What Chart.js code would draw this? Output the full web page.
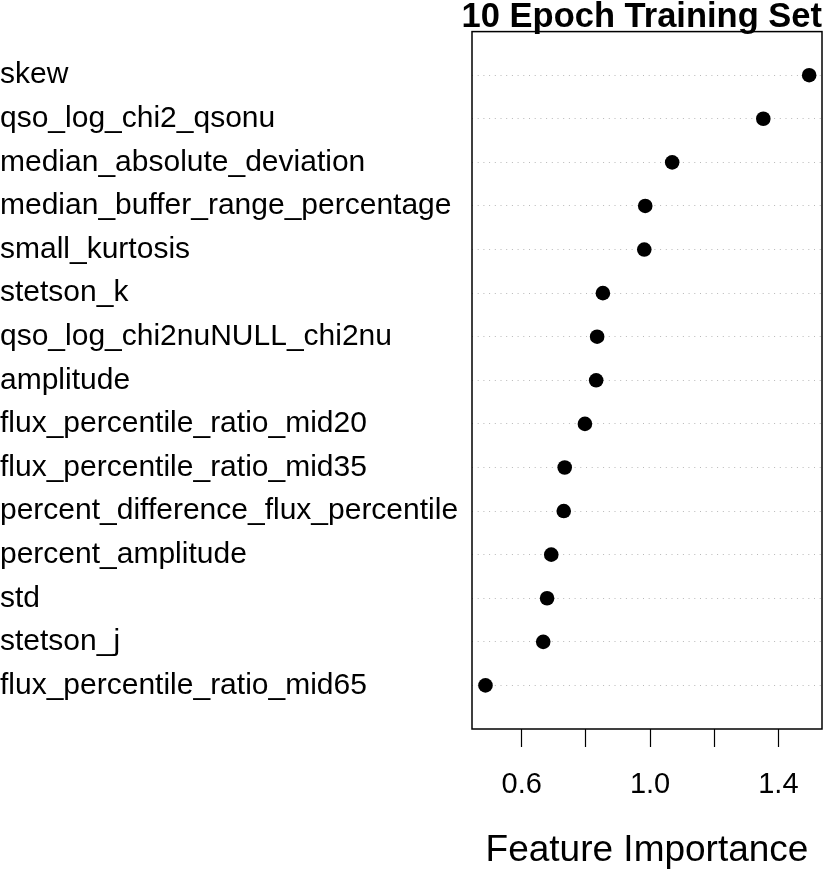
<!DOCTYPE html>
<html>
<head>
<meta charset="utf-8">
<script src="https://cdn.jsdelivr.net/npm/chart.js@4.4.1/dist/chart.umd.min.js"></script>
<style>
  body { margin: 0; background: #fff; }
</style>
</head>
<body>
<canvas id="myChart" width="831" height="873"></canvas>
<script>
// features, top to bottom
const features = [
  "skew",
  "qso_log_chi2_qsonu",
  "median_absolute_deviation",
  "median_buffer_range_percentage",
  "small_kurtosis",
  "stetson_k",
  "qso_log_chi2nuNULL_chi2nu",
  "amplitude",
  "flux_percentile_ratio_mid20",
  "flux_percentile_ratio_mid35",
  "percent_difference_flux_percentile",
  "percent_amplitude",
  "std",
  "stetson_j",
  "flux_percentile_ratio_mid65"
];
const importance = [1.496, 1.353, 1.069, 0.985, 0.982, 0.853, 0.835, 0.832, 0.797, 0.734, 0.731, 0.692, 0.679, 0.667, 0.487];
const xTicks = [0.6, 0.8, 1.0, 1.2, 1.4];
// R drops the labels that would overlap
const xTickLabels = ["0.6", "", "1.0", "", "1.4"];

const ctx = document.getElementById("myChart");
const font = "'Liberation Sans', Arial, Helvetica, sans-serif";

const points = importance.map((v, i) => ({ x: v, y: i + 1 }));

// box around the plot area
const boxPlugin = {
  id: "box",
  afterDraw(chart) {
    const a = chart.chartArea;
    const c = chart.ctx;
    c.save();
    c.strokeStyle = "#000";
    c.lineWidth = 1.5;
    c.strokeRect(a.left, a.top, a.right - a.left, a.bottom - a.top);
    c.restore();
  }
};

new Chart(ctx, {
  type: "scatter",
  data: {
    datasets: [
      {
        data: points,
        backgroundColor: "#000",
        borderWidth: 0,
        pointRadius: 7.3,
        pointHoverRadius: 7.3
      }
    ]
  },
  options: {
    responsive: false,
    animation: false,
    layout: { padding: { left: 0, right: 9, top: 0, bottom: 0 } },
    plugins: {
      legend: { display: false },
      tooltip: { enabled: false },
      title: {
        display: true,
        text: "10 Epoch Training Set",
        align: "end",
        color: "#000",
        font: { family: font, size: 34.5, weight: "bold", lineHeight: 0.8 },
        padding: { top: 4, bottom: 0 }
      }
    },
    scales: {
      x: {
        type: "linear",
        min: 0.445,
        max: 1.536,
        afterBuildTicks: (s) => { s.ticks = xTicks.map((v) => ({ value: v })); },
        afterFit: (s) => { s.height = 144; },
        border: { display: false },
        grid: {
          drawOnChartArea: false,
          drawTicks: true,
          tickLength: 18,
          tickColor: "#000",
          tickWidth: 1.2
        },
        ticks: {
          color: "#000",
          font: { family: font, size: 29 },
          padding: 21,
          maxRotation: 0,
          autoSkip: false,
          callback: (v, i) => xTickLabels[i]
        },
        title: {
          display: true,
          text: "Feature Importance",
          color: "#000",
          font: { family: font, size: 37 },
          padding: { top: 0, bottom: 0 }
        }
      },
      y: {
        type: "linear",
        reverse: true,
        min: 0,
        max: 16,
        afterBuildTicks: (s) => { s.ticks = features.map((f, i) => ({ value: i + 1 })); },
        afterFit: (s) => { s.width = 472; },
        border: { display: false, dash: [1, 4.7] },
        grid: {
          color: "#b8b8b8",
          lineWidth: 1,
          drawTicks: false
        },
        ticks: {
          color: "#000",
          crossAlign: "far",
          padding: 0,
          font: { family: font, size: 30 },
          callback: (v) => features[v - 1]
        }
      }
    }
  },
  plugins: [boxPlugin]
});
</script>
</body>
</html>
